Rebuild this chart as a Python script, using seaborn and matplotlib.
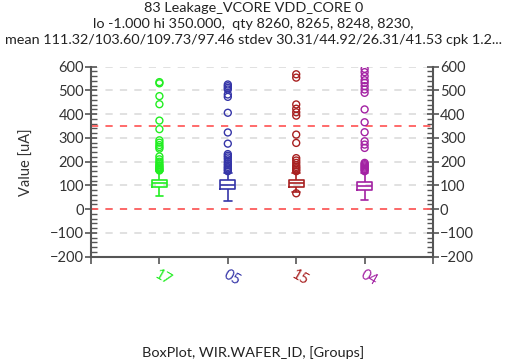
import pandas as pd
import numpy as np
import matplotlib
matplotlib.use("Agg")
import matplotlib.pyplot as plt
import seaborn as sns
from matplotlib.ticker import MultipleLocator

# ------------------------------------
# Data
# ------------------------------------
groups = ['17', '05', '15', '04']
colors = ['#22ee22', '#3535a8', '#a82020', '#a322a3']

# box summary per group: low whisker, q1, median, q3, high whisker
box_17 = [57, 93, 109, 124, 159]
box_05 = [36, 84, 102, 121, 154]
box_15 = [74, 95, 110, 124, 154]
box_04 = [39, 81, 98, 114, 152]

out_17 = [535, 530, 476, 442, 373, 337, 290, 280, 270, 262, 255, 222, 210,
          200, 192, 185, 180, 175, 170, 166, 163]
out_05 = [525, 518, 511, 504, 483, 473, 406, 323, 276, 232, 225, 218, 210,
          200, 192, 185, 178, 172, 166, 160]
out_15 = [568, 554, 441, 423, 408, 394, 314, 279, 215, 205, 195, 185, 178,
          172, 166, 160, 67]
out_04 = [591, 577, 560, 543, 532, 518, 504, 490, 420, 366, 324, 286, 272,
          258, 195, 190, 185, 180, 175, 170, 165, 160]

lo_limit = -1.0
hi_limit = 350.0

title = ("83 Leakage_VCORE VDD_CORE 0\n"
         "lo -1.000 hi 350.000,  qty 8260, 8265, 8248, 8230,\n"
         "mean 111.32/103.60/109.73/97.46 stdev 30.31/44.92/26.31/41.53 cpk 1.2...")

box_df = pd.DataFrame({
    'group': np.repeat(groups, 5),
    'value': box_17 + box_05 + box_15 + box_04,
})
out_df = pd.DataFrame({
    'group': ['17'] * len(out_17) + ['05'] * len(out_05)
             + ['15'] * len(out_15) + ['04'] * len(out_04),
    'value': out_17 + out_05 + out_15 + out_04,
})

# ------------------------------------
# Plot
# ------------------------------------
sns.set_style("white")
plt.rcParams['font.family'] = ['Lato', 'DejaVu Sans']

fig = plt.figure(figsize=(5.07, 3.64), dpi=100)
ax = fig.add_axes([0.1795, 0.2948, 0.6746, 0.522])

pal = dict(zip(groups, colors))

# dashed grid and limit lines underneath
for v in range(-200, 601, 100):
    ax.axhline(v, color='#dedede', lw=1.3, ls=(0, (4, 4)), zorder=0)
for v in [lo_limit, hi_limit]:
    ax.axhline(v, color='#ff5f5f', lw=1.3, ls=(0, (4, 4)), zorder=1)

sns.boxplot(data=box_df, x='group', y='value', hue='group', order=groups,
            palette=pal, whis=(0, 100), showfliers=False, width=0.22,
            fill=False, linewidth=1.2, legend=False, ax=ax)

sns.stripplot(data=out_df, x='group', y='value', hue='group', order=groups,
              palette=pal, jitter=False, size=5, legend=False, ax=ax)

# hollow outlier markers
for coll in ax.collections:
    fc = coll.get_facecolors()
    if len(fc):
        coll.set_edgecolors(fc)
        coll.set_facecolors('none')
        coll.set_linewidth(1.0)

ax.set_xlim(-1, 4)
ax.set_ylim(-200, 600)

ax.yaxis.set_major_locator(MultipleLocator(100))
ax.yaxis.set_minor_locator(MultipleLocator(20))
ax.tick_params(axis='y', which='major', left=True, right=True,
               labelleft=True, labelright=True, direction='inout',
               length=8, width=1.2, color='#555555', labelsize=10.5,
               labelcolor='#333333', pad=1)
ax.tick_params(axis='y', which='minor', left=True, right=True,
               direction='in', length=4, width=1.0, color='#555555')

ax.set_xticks([-1, 0, 1, 2, 3, 4])
ax.set_xticklabels([''] + groups + [''])
ax.tick_params(axis='x', which='major', bottom=True, direction='out',
               length=5, width=1.2, color='#555555', labelsize=10.5, pad=3)
for lab, col in zip(ax.get_xticklabels()[1:5], colors):
    lab.set_color(col)
    lab.set_rotation(-30)
    lab.set_ha('left')
    lab.set_rotation_mode('anchor')

for side in ['left', 'right', 'bottom']:
    ax.spines[side].set_color('#555555')
    ax.spines[side].set_linewidth(1.5)
ax.spines['top'].set_visible(False)

ax.set_xlabel('')
ax.set_ylabel('Value [uA]', fontsize=10.5, color='#333333', labelpad=12)

# three-line header above the plot
fig.text(0.5, 1 - 2 / 364, title, ha='center', va='top', fontsize=10.4,
         color='#222222', linespacing=1.42, multialignment='center')

fig.text(0.5, 0.018, 'BoxPlot, WIR.WAFER_ID, [Groups]', ha='center',
         fontsize=10.4, color='#222222')

fig.savefig('out.png', dpi=100)
